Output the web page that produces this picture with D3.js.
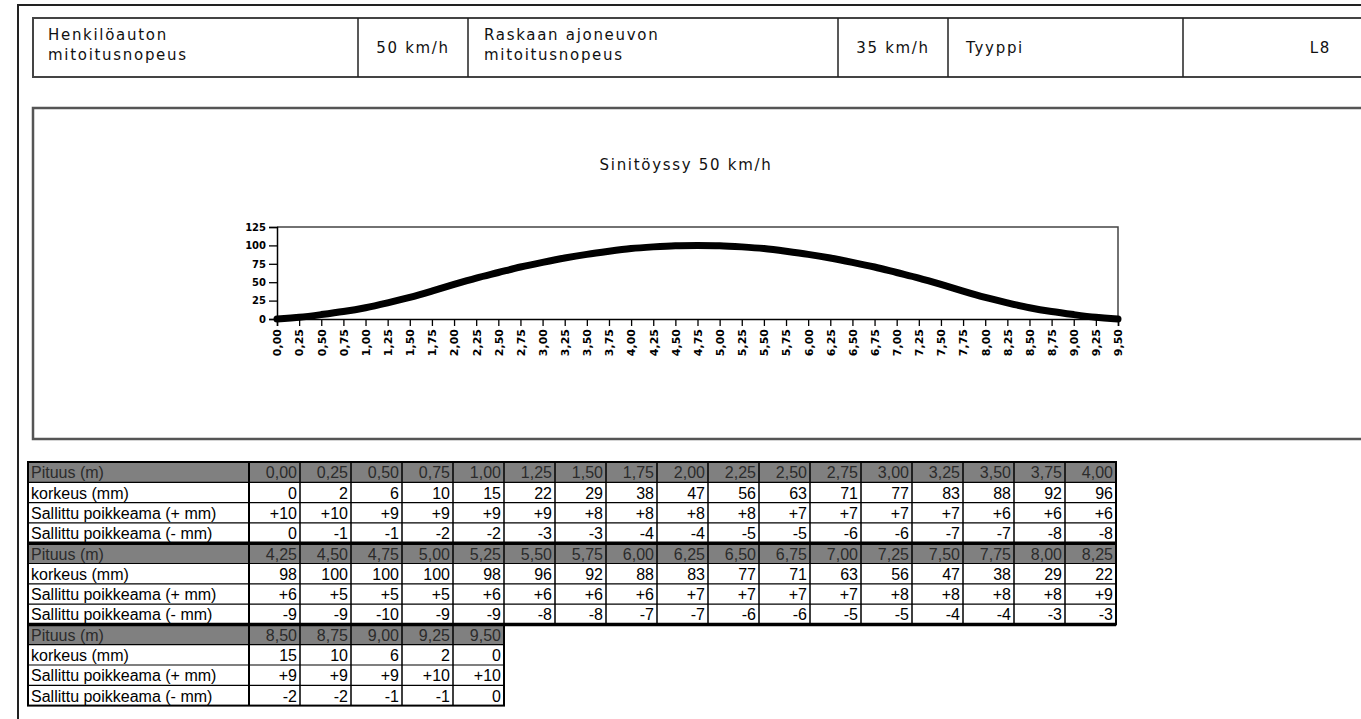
<!DOCTYPE html>
<html><head><meta charset="utf-8">
<script src="https://cdn.jsdelivr.net/npm/d3@7"></script>
<style>
html,body{margin:0;padding:0;background:#fff;overflow:hidden}
svg{display:block}
.cad{font-family:"DejaVu Sans",sans-serif;font-size:15px;letter-spacing:1.7px;fill:#111}
.ax text{font-family:"DejaVu Sans",sans-serif;font-weight:bold;font-size:10px;fill:#000}
.xax text{font-size:11px}
.tbl{font-family:"Liberation Sans",Arial,sans-serif;font-size:16px}
</style></head>
<body>
<svg id="c" width="1361" height="719"></svg>
<script>
// ---- data ----
const positions = [0,0.25,0.5,0.75,1,1.25,1.5,1.75,2,2.25,2.5,2.75,3,3.25,3.5,3.75,4,4.25,4.5,4.75,5,5.25,5.5,5.75,6,6.25,6.5,6.75,7,7.25,7.5,7.75,8,8.25,8.5,8.75,9,9.25,9.5];
const heights = [0,2,6,10,15,22,29,38,47,56,63,71,77,83,88,92,96,98,100,100,100,98,96,92,88,83,77,71,63,56,47,38,29,22,15,10,6,2,0];
const tolPlus = ["+10","+10","+9","+9","+9","+9","+8","+8","+8","+8","+7","+7","+7","+7","+6","+6","+6","+6","+5","+5","+5","+6","+6","+6","+6","+7","+7","+7","+7","+8","+8","+8","+8","+9","+9","+9","+9","+10","+10"];
const tolMinus = ["0","-1","-1","-2","-2","-3","-3","-4","-4","-5","-5","-6","-6","-7","-7","-8","-8","-9","-9","-10","-9","-9","-8","-8","-7","-7","-6","-6","-5","-5","-4","-4","-3","-3","-2","-2","-1","-1","0"];
const yTicks = [0,25,50,75,100,125];
const rowLabels = ["Pituus (m)","korkeus (mm)","Sallittu poikkeama (+ mm)","Sallittu poikkeama (- mm)"];
const headerTexts = [
  {lines:["Henkilöauton","mitoitusnopeus"], x:48, anchor:"start"},
  {lines:["50 km/h"], x:413, anchor:"middle"},
  {lines:["Raskaan ajoneuvon","mitoitusnopeus"], x:484, anchor:"start"},
  {lines:["35 km/h"], x:893, anchor:"middle"},
  {lines:["Tyyppi"], x:966, anchor:"start"},
  {lines:["L8"], x:1331, anchor:"end"}
];
const headerDividers = [358,468,838,948,1183];
const title = "Sinitöyssy 50 km/h";

const fmt = v => v.toFixed(2).replace(".", ",");
const svg = d3.select("#c");

// outer frame
svg.append("path").attr("d","M18,719 V5 H1361").attr("fill","none").attr("stroke","#222").attr("stroke-width",2);

// header box
const hb = {x:33,y:18,h:59};
svg.append("path").attr("d",`M1361,${hb.y} H${hb.x} V${hb.y+hb.h} H1361`).attr("fill","none").attr("stroke","#444").attr("stroke-width",2);
headerDividers.forEach(x=>svg.append("line").attr("x1",x).attr("x2",x).attr("y1",hb.y).attr("y2",hb.y+hb.h).attr("stroke","#222").attr("stroke-width",1.5));
headerTexts.forEach(h=>{
  const t = svg.append("text").attr("class","cad").attr("text-anchor",h.anchor);
  if(h.lines.length===2){
    t.append("tspan").attr("x",h.x).attr("y",40).text(h.lines[0]);
    t.append("tspan").attr("x",h.x).attr("y",60).text(h.lines[1]);
  } else {
    t.append("tspan").attr("x",h.x).attr("y",53).text(h.lines[0]);
  }
});

// chart box
svg.append("path").attr("d","M1361,108 H33 V439 H1361").attr("fill","none").attr("stroke","#555").attr("stroke-width",2.5);
svg.append("text").attr("class","cad").attr("x",686).attr("y",170).attr("text-anchor","middle").text(title);

// plot
const x = d3.scaleLinear().domain([0,9.5]).range([277,1118]);
const y = d3.scaleLinear().domain([0,125]).range([319,227]);
svg.append("path").attr("d",`M${x(0)},${y(125)} H${x(9.5)} V${y(0)}`).attr("fill","none").attr("stroke","#444").attr("stroke-width",1.5);
svg.append("g").attr("class","ax").attr("transform",`translate(${x(0)},0)`)
  .call(d3.axisLeft(y).tickValues(yTicks).tickSize(8).tickPadding(3));
const xa = svg.append("g").attr("class","ax xax").attr("transform",`translate(0,${y(0)})`)
  .call(d3.axisBottom(x).tickValues(positions).tickSize(7).tickFormat(fmt));
xa.selectAll("text").attr("transform","rotate(-90)").attr("text-anchor","end").attr("x",-10).attr("y",0).attr("dy","0.35em");
svg.selectAll(".ax path").attr("stroke","#000").attr("stroke-width",1.5);
svg.selectAll(".ax line").attr("stroke","#000").attr("stroke-width",1.3);

const line = d3.line().x((d,i)=>x(positions[i])).y(d=>y(d)).curve(d3.curveBasis);
svg.append("path").datum(heights).attr("d",line).attr("fill","none").attr("stroke","#000").attr("stroke-width",7).attr("stroke-linecap","round").attr("stroke-linejoin","round");

// table
const tx = 28, labelW = 221, colW = 51, ty = 462, rh = 20.3, perBlock = 17;
const tg = svg.append("g").attr("class","tbl");
for(let b=0;b<3;b++){
  const start=b*perBlock, n=Math.min(perBlock,positions.length-start);
  const by = ty + b*4*rh;
  const w = labelW + n*colW;
  const rows = [positions.slice(start,start+n).map(fmt), heights.slice(start,start+n).map(String), tolPlus.slice(start,start+n), tolMinus.slice(start,start+n)];
  tg.append("rect").attr("x",tx).attr("y",by).attr("width",w).attr("height",rh).attr("fill","#808080");
  for(let r=0;r<4;r++){
    const ry = by + r*rh;
    const col = r===0 ? "#2b2b2b" : "#000";
    tg.append("text").attr("x",tx+3).attr("y",ry+rh-4).attr("fill",col).text(rowLabels[r]);
    rows[r].forEach((v,i)=>{
      tg.append("text").attr("x",tx+labelW+(i+1)*colW-3).attr("y",ry+rh-4).attr("text-anchor","end").attr("fill",col).text(v);
    });
    if(r>0) tg.append("line").attr("x1",tx).attr("x2",tx+w).attr("y1",ry).attr("y2",ry).attr("stroke","#000").attr("stroke-width",1.2);
  }
  for(let i=0;i<=n;i++){
    const cx = tx+labelW+i*colW;
    tg.append("line").attr("x1",cx).attr("x2",cx).attr("y1",by).attr("y2",by+4*rh).attr("stroke","#000").attr("stroke-width",i===0?2:1.5);
  }
  tg.append("rect").attr("x",tx).attr("y",by).attr("width",w).attr("height",4*rh).attr("fill","none").attr("stroke","#000").attr("stroke-width",2);
  if(b>0) tg.append("line").attr("x1",tx).attr("x2",tx+Math.max(w, labelW+perBlock*colW)).attr("y1",by).attr("y2",by).attr("stroke","#000").attr("stroke-width",3.5);
}
</script>
</body></html>
